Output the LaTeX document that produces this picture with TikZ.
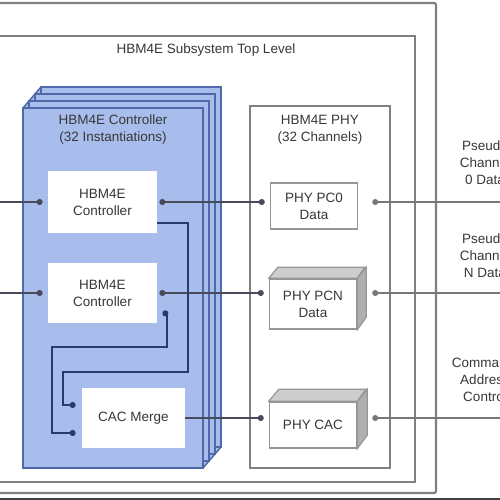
\documentclass[tikz,border=0pt]{standalone}
\usepackage{fontspec}
\setmainfont{Liberation Sans}
\usetikzlibrary{arrows.meta,calc}

\definecolor{framegray}{RGB}{128,128,128}
\definecolor{lightframe}{RGB}{150,150,150}
\definecolor{ctrlfill}{RGB}{168,189,235}
\definecolor{ctrledge}{RGB}{78,104,170}
\definecolor{wirenavy}{RGB}{40,58,112}
\definecolor{linkgray}{RGB}{70,74,90}
\definecolor{outgray}{RGB}{120,120,120}
\definecolor{labelgray}{RGB}{55,55,55}
\definecolor{cubetop}{RGB}{205,205,205}
\definecolor{cubeside}{RGB}{175,175,175}

\tikzset{every picture/.style={line width=0.75pt}}

\begin{document}
\begin{tikzpicture}[x=1pt,y=1pt,yscale=-1,
  font=\fontsize{13.5}{17}\selectfont,
  txt/.style={text=labelgray, align=center, inner sep=0pt},
  frame/.style={draw=framegray, line width=2.2pt},
  card/.style={draw=ctrledge, fill=ctrlfill, line width=1.5pt},
  blockbox/.style={txt, fill=white, minimum width=109pt, minimum height=62pt},
  phybox/.style={txt, draw=lightframe, line width=1.5pt, fill=white, minimum width=87pt, minimum height=46pt},
  wire/.style={draw=wirenavy, line width=2pt},
  link/.style={draw=linkgray, line width=1.4pt},
  outlink/.style={draw=outgray, line width=1.4pt},
  beadend/.style={-{Circle[length=6pt]}},
  beadboth/.style={{Circle[length=6pt]}-{Circle[length=6pt]}}]
\useasboundingbox (0,0) rectangle (500,500);
\clip (0,0) rectangle (500,500);

%Shape: Rectangle [outer frame]
\draw[frame, rounded corners=2pt] (-20,3) rectangle (436,493);
%Shape: Rectangle [subsystem frame]
\draw[frame] (-20,36) rectangle (415,482);
% Text Node
\node[txt] (subsys) at (206,50) {HBM4E Subsystem Top Level};

%Shape: stacked controller cards
\draw[card] (23,108) -- (41,87) -- (221,87) -- (221,447) -- (203,468) -- (23,468) -- cycle;
\foreach \k in {3,2,1}
  \draw[card] (23+6*\k,108-7*\k) rectangle (203+6*\k,468-7*\k);
\node[card, minimum width=180pt, minimum height=360pt] (ctrlstack) at (113,288) {};
% Text Node
\node[txt] (ctrltitle) at (113,130) {HBM4E Controller\\(32 Instantiations)};

% controller blocks
\node[blockbox] (ctrlA) at (102.5,202) {HBM4E\\Controller};
\node[blockbox, minimum height=60pt] (ctrlB) at (102.5,293) {HBM4E\\Controller};
\node[blockbox, minimum width=103pt, minimum height=60pt] (cacmerge) at (133.5,418) {CAC Merge};

%Shape: Rectangle [PHY]
\node[draw=framegray, line width=2pt, minimum width=140pt, minimum height=362pt] (phy) at (320,287) {};
% Text Node
\node[txt] (phytitle) at (320,130) {HBM4E PHY\\(32 Channels)};

% PHY blocks
\node[phybox] (pc0) at (314,206) {PHY PC0\\Data};
\node[phybox, minimum height=50pt] (pcn) at (313,304) {PHY PCN\\Data};
\draw[draw=lightframe, line width=1.2pt, fill=cubetop] (pcn.north west) -- ++(9,-11) -- ++(87,0) -- (pcn.north east) -- cycle;
\draw[draw=lightframe, line width=1.2pt, fill=cubeside] (pcn.north east) -- ++(9,-11) -- ++(0,50) -- (pcn.south east) -- cycle;
\node[phybox] (phycac) at (313,425) {PHY CAC};
\draw[draw=lightframe, line width=1.2pt, fill=cubetop] (phycac.north west) -- ++(10,-12) -- ++(87,0) -- (phycac.north east) -- cycle;
\draw[draw=lightframe, line width=1.2pt, fill=cubeside] (phycac.north east) -- ++(10,-12) -- ++(0,46) -- (phycac.south east) -- cycle;

% Text Node
\node[txt] (pc0label) at (485,163) {Pseudo\\Channel\\0 Data};
\node[txt] (pcnlabel) at (485,256) {Pseudo\\Channel\\N Data};
\node[txt] (cmdlabel) at (485,380) {Command/\\Address\\Control};

% free ends
\coordinate (inA) at (-5,202);
\coordinate (inB) at (-5,293);
\coordinate (outA) at (505,202);
\coordinate (outB) at (505,293);
\coordinate (outC) at (505,418);
\coordinate (cacinA) at ($(cacmerge.west)+(0,-13)$);
\coordinate (cacinB) at ($(cacmerge.west)+(0,15)$);

% inputs
\draw[link, beadend, shorten >=5pt] (inA) -- (ctrlA.west);
\draw[link, beadend, shorten >=5pt] (inB) -- (ctrlB.west);
% controller to PHY
\draw[link, beadboth, shorten <=2pt, shorten >=5pt] (ctrlA.east) -- (pc0.west |- ctrlA.east);
\draw[link, beadboth, shorten <=2pt, shorten >=5pt] (ctrlB.east) -- (pcn.west |- ctrlB.east);
\draw[link, beadend, shorten >=5pt] (cacmerge.east) -- (phycac.west |- cacmerge.east);
% PHY to memory
\draw[outlink, beadend, shorten >=14pt] (outA) -- (pc0.east |- outA);
\draw[outlink, beadend, shorten >=15pt] (outB) -- (pcn.east |- outB);
\draw[outlink, beadend, shorten >=15pt] (outC) -- (phycac.east |- outC);

% CAC paths
\draw[wire, beadend, shorten >=6pt] ($(ctrlA.south east)+(0,-10)$) -| (188,372) -| ($(cacinA)+(-19,0)$) -- (cacinA);
\draw[wire, beadboth, shorten <=5pt, shorten >=6pt] ($(ctrlB.south east)+(0,-10)$) -| (167,347) -| ($(cacinB)+(-30,0)$) -- (cacinB);

% bottom edge
\draw[black!75, line width=2pt] (0,499) -- (500,499);
\end{tikzpicture}
\end{document}
